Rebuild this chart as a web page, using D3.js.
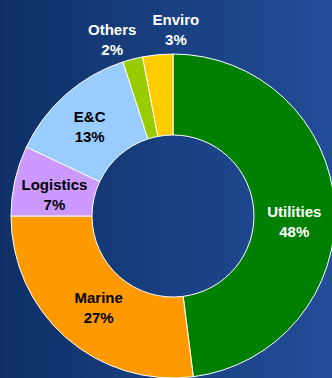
<!DOCTYPE html>
<html>
<head>
<meta charset="utf-8">
<script src="https://cdn.jsdelivr.net/npm/d3@7"></script>
<style>
  html, body { margin:0; padding:0; }
  body { width:332px; height:378px; overflow:hidden; }
</style>
</head>
<body>
<div id="chart"></div>
<script>
// Segment data, clockwise from 12 o'clock
var segments = ["Utilities", "Marine", "Logistics", "E&C", "Others", "Enviro"];
var shares = [48, 27, 7, 13, 2, 3];
var colors = ["#008000", "#ff9900", "#cc99ff", "#99ccff", "#99cc00", "#ffcc00"];
var labelColors = ["#ffffff", "#000000", "#000000", "#000000", "#ffffff", "#ffffff"];

var width = 332, height = 378;
var cx = 173, cy = 216, outerR = 162, innerR = 81;

var svg = d3.select("#chart").append("svg")
    .attr("width", width)
    .attr("height", height);

// background gradient, dark navy to lighter blue
var defs = svg.append("defs");
var bg = defs.append("linearGradient")
    .attr("id", "bgGrad")
    .attr("x1", "0%").attr("x2", "100%")
    .attr("y1", "0%").attr("y2", "0%");
bg.append("stop").attr("offset", "0%").attr("stop-color", "#0f3067");
bg.append("stop").attr("offset", "100%").attr("stop-color", "#224e98");

svg.append("rect")
    .attr("width", width).attr("height", height)
    .attr("fill", "url(#bgGrad)");

var data = segments.map(function(s, i) { return {name: s, value: shares[i], i: i}; });

var pie = d3.pie().sort(null).value(d => d.value);
var arc = d3.arc().innerRadius(innerR).outerRadius(outerR);
var arcs = pie(data);

var g = svg.append("g").attr("transform", "translate(" + cx + "," + cy + ")");

g.selectAll("path")
    .data(arcs)
    .enter()
    .append("path")
    .attr("d", arc)
    .attr("fill", d => colors[d.data.i])
    .attr("stroke", "#ffffff")
    .attr("stroke-width", 1);

// small segments get labelled outside the ring
function labelPos(d) {
  if (d.data.value < 5) {
    var mid = (d.startAngle + d.endAngle) / 2;
    // spread the two tiny labels apart a little
    var shift = d.data.name == "Others" ? -0.08 : 0.11;
    var a = mid + shift;
    return [187 * Math.sin(a), -187 * Math.cos(a)];
  }
  var c = arc.centroid(d);
  if (d.data.name == "Utilities") c[1] += 13;
  if (d.data.name == "Marine") c[0] += 6;
  if (d.data.name == "Logistics") c[1] += 5;
  if (d.data.name == "E&C") { c[0] -= 3; c[1] += 2; }
  return c;
}

var labels = g.selectAll("g.lbl")
    .data(arcs)
    .enter()
    .append("g")
    .attr("class", "lbl")
    .attr("transform", d => "translate(" + labelPos(d) + ")");

labels.append("text")
    .attr("y", -10)
    .text(d => d.data.name);
labels.append("text")
    .attr("y", 10)
    .text(d => d.data.value + "%");

labels.selectAll("text")
    .attr("text-anchor", "middle")
    .attr("dominant-baseline", "central")
    .style("font-family", "'Liberation Sans', Arial, sans-serif")
    .style("font-weight", "bold")
    .style("font-size", "15px")
    .attr("fill", function() { return labelColors[d3.select(this.parentNode).datum().data.i]; });
</script>
</body>
</html>
